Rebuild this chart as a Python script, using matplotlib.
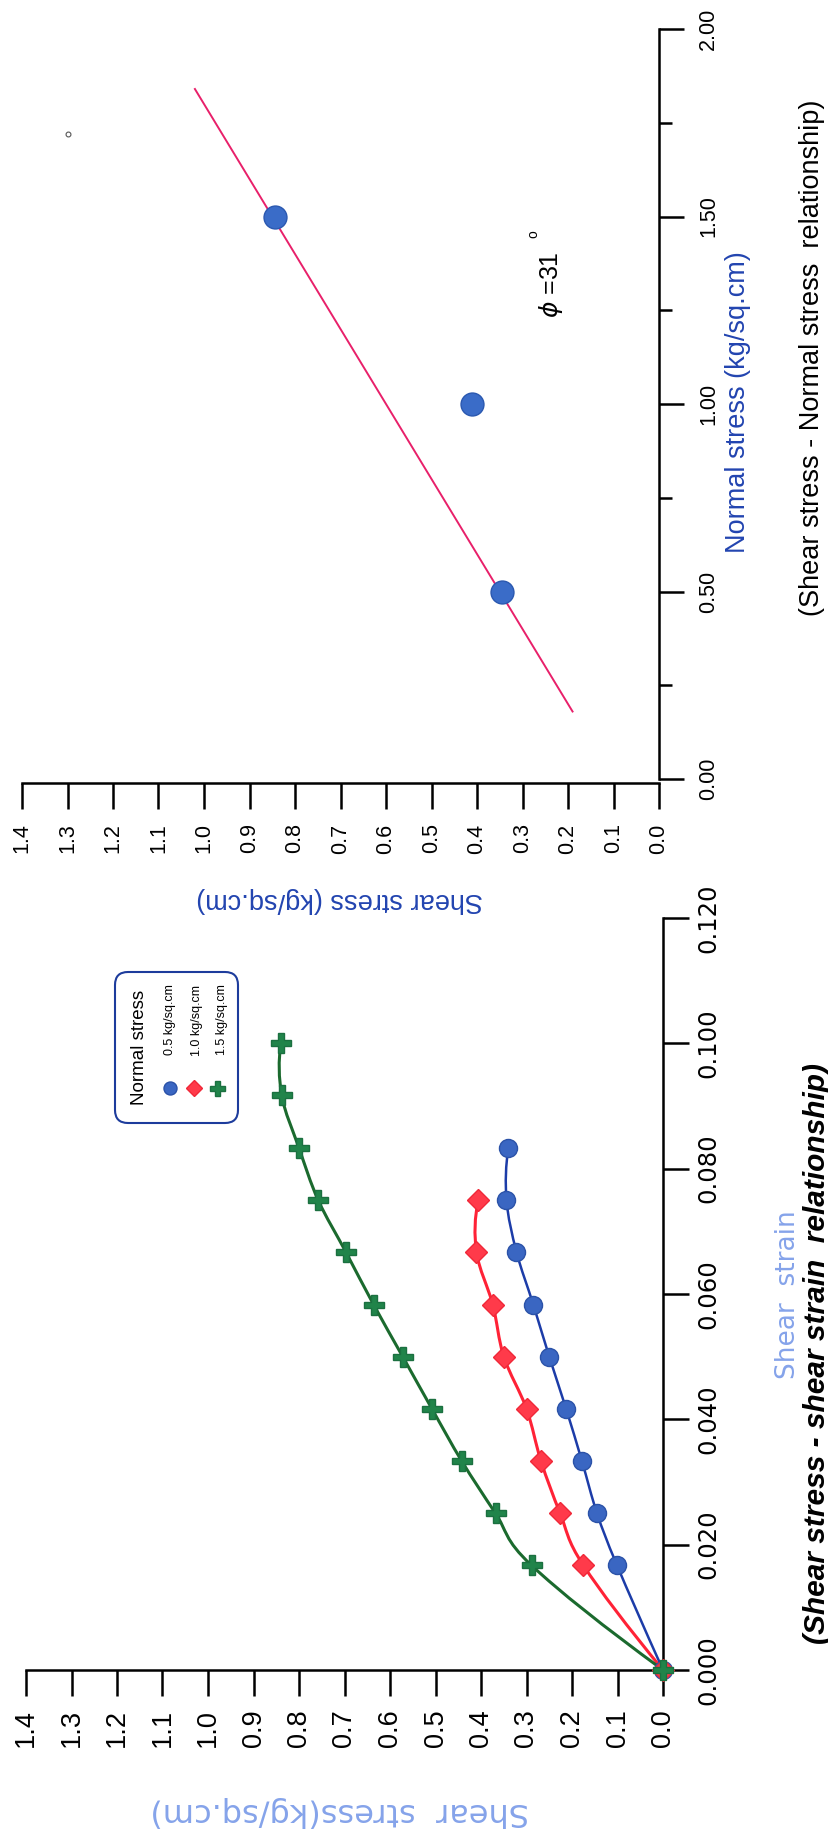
import numpy as np
import matplotlib
matplotlib.use("Agg")
import matplotlib.pyplot as plt
from matplotlib.path import Path
from matplotlib.patches import PathPatch, FancyBboxPatch
from matplotlib.lines import Line2D

W, H = 829, 1839

# shear stress - normal stress (upper chart)
normal_stress = [0.5, 1.0, 1.5]
max_shear = [0.345, 0.412, 0.843]
fit_normal = [0.18, 1.84]
fit_shear = [0.19, 1.02]
stray_normal = [1.72]
stray_shear = [1.30]
phi_label = r"$\phi$ =31"

# shear stress - shear strain (lower chart)
strain_05 = [0, 0.0167, 0.025, 0.0333, 0.0417, 0.05, 0.0583, 0.0667, 0.075, 0.0833]
shear_05 = [0, 0.101, 0.145, 0.178, 0.213, 0.250, 0.285, 0.322, 0.344, 0.340]
strain_10 = [0, 0.0167, 0.025, 0.0333, 0.0417, 0.05, 0.0583, 0.0667, 0.075]
shear_10 = [0, 0.175, 0.226, 0.268, 0.300, 0.350, 0.374, 0.410, 0.406]
strain_15 = [0, 0.0167, 0.025, 0.0333, 0.0417, 0.05, 0.0583, 0.0667, 0.075, 0.0833, 0.0917, 0.1]
shear_15 = [0, 0.289, 0.368, 0.442, 0.508, 0.572, 0.636, 0.697, 0.758, 0.800, 0.838, 0.840]
series_labels = ["0.5 kg/sq.cm", "1.0 kg/sq.cm", "1.5 kg/sq.cm"]

stress_ticks = [0.0, 0.1, 0.2, 0.3, 0.4, 0.5, 0.6, 0.7, 0.8, 0.9, 1.0, 1.1, 1.2, 1.3, 1.4]
normal_ticks = [0.0, 0.5, 1.0, 1.5, 2.0]
normal_minor = [0.25, 0.75, 1.25, 1.75]
strain_ticks = [0.0, 0.02, 0.04, 0.06, 0.08, 0.10, 0.12]

ARIAL = "Liberation Sans"
BLUE_TXT = "#2244b0"
LIGHT_TXT = "#85a3ea"


def smooth(xs, ys):
    # smooth curve through the points (cubic Hermite, Catmull-Rom tangents)
    p = np.column_stack([xs, ys]).astype(float)
    n = len(p)
    m = np.zeros_like(p)
    m[1:-1] = (p[2:] - p[:-2]) / 2
    m[0] = 2 * (p[1] - p[0]) - m[1]
    m[-1] = 2 * (p[-1] - p[-2]) - m[-2]
    verts = [p[0]]
    codes = [Path.MOVETO]
    for i in range(n - 1):
        verts += [p[i] + m[i] / 3, p[i + 1] - m[i + 1] / 3, p[i + 1]]
        codes += [Path.CURVE4] * 3
    return Path(verts, codes)


def px(x, y):
    # pixel position (from top left) -> inches for dpi_scale_trans
    return x / 100, (H - y) / 100


fig = plt.figure(figsize=(W / 100, H / 100), dpi=100)
T = fig.dpi_scale_trans

# ---------------- upper chart ----------------
ax1 = fig.add_axes([22 / W, 1 - 779 / H, (659 - 22) / W, (779 - 29) / H])
ax1.set_xlim(1.4, 0.0)
ax1.set_ylim(0.0, 2.0)
ax1.spines[["left", "top"]].set_visible(False)
ax1.spines["bottom"].set_position(("outward", 3))
for s in ["bottom", "right"]:
    ax1.spines[s].set_linewidth(1.8)
ax1.yaxis.tick_right()
ax1.set_xticks(stress_ticks, labels=[f"{v:.1f}" for v in stress_ticks],
               rotation=90, fontsize=15.5, fontfamily=ARIAL)
ax1.set_yticks(normal_ticks, labels=[f"{v:.2f}" for v in normal_ticks],
               rotation=90, va="center", fontsize=15.5, fontfamily=ARIAL)
ax1.set_yticks(normal_minor, minor=True)
ax1.tick_params(axis="x", length=19, width=1.8, pad=10)
ax1.tick_params(axis="y", which="major", length=18, width=1.8, pad=10)
ax1.tick_params(axis="y", which="minor", length=9, width=1.8)

ax1.plot(fit_shear, fit_normal, color="#e8206a", lw=1.4, zorder=2)
ax1.plot(max_shear, normal_stress, ls="none", marker="o", ms=16.5,
         mfc="#3a6cc8", mec="#2a58b0", zorder=3)
ax1.plot(stray_shear, stray_normal, ls="none", marker="o", ms=3.5,
         mfc="white", mec="#555555", mew=0.8)

fig.text(*px(551, 285), phi_label, transform=T, rotation=90, fontsize=18,
         fontfamily=ARIAL, ha="center", va="center")
fig.text(*px(533, 234), "o", transform=T, rotation=90, fontsize=10,
         fontfamily=ARIAL, ha="center", va="center")

fig.text(*px(738, 402), "Normal stress (kg/sq.cm)", transform=T, rotation=90,
         fontsize=19.5, fontfamily=ARIAL, color=BLUE_TXT, ha="center", va="center")
fig.text(*px(812, 358), "(Shear stress - Normal stress  relationship)", transform=T,
         rotation=90, fontsize=19.5, fontfamily=ARIAL, ha="center", va="center")
fig.text(*px(340, 900), "Shear stress (kg/sq.cm)", transform=T, rotation=180,
         fontsize=19.5, fontfamily=ARIAL, color=BLUE_TXT, ha="center", va="center")

# ---------------- lower chart ----------------
ax2 = fig.add_axes([26 / W, 1 - 1670 / H, (663 - 26) / W, (1670 - 918) / H])
ax2.set_xlim(1.4, 0.0)
ax2.set_ylim(0.0, 0.12)
ax2.spines[["left", "top"]].set_visible(False)
for s in ["bottom", "right"]:
    ax2.spines[s].set_linewidth(1.8)
ax2.yaxis.tick_right()
ax2.set_xticks(stress_ticks, labels=[f"{v:.1f}" for v in stress_ticks],
               rotation=90, fontsize=19.5, fontfamily=ARIAL)
ax2.set_yticks(strain_ticks, labels=[f"{v:.3f}" for v in strain_ticks],
               rotation=90, va="center", fontsize=17.5, fontfamily="DejaVu Sans")
ax2.tick_params(axis="x", length=19, width=1.8, pad=9)
ax2.tick_params(axis="y", length=19, width=1.8, pad=5)

series = [
    (shear_05, strain_05, "#1c3ca8", 1.8, dict(marker="o", ms=13, mfc="#3a66c2", mec="#2b52a8")),
    (shear_10, strain_10, "#ff2236", 2.2, dict(marker="D", ms=11, mfc="#ff3a4a", mec="#f02838")),
    (shear_15, strain_15, "#1b6a2e", 2.2, dict(marker="P", ms=15, mfc="#21844a", mec="#1b7040")),
]
for xs, ys, lc, lw, mk in series:
    ax2.add_patch(PathPatch(smooth(xs, ys), fill=False, ec=lc, lw=lw, zorder=2))
    ax2.plot(xs, ys, ls="none", clip_on=False, zorder=3, **mk)

fig.text(*px(788, 1295), "Shear  strain", transform=T, rotation=90, fontsize=19,
         fontfamily="DejaVu Sans", color=LIGHT_TXT, ha="center", va="center")
fig.text(*px(817, 1354), "(Shear stress - shear strain  relationship)", transform=T,
         rotation=90, fontsize=21.5, fontfamily=ARIAL, fontweight="bold",
         fontstyle="italic", ha="center", va="center")
fig.text(*px(340, 1812), "Shear  stress(kg/sq.cm)", transform=T, rotation=180,
         fontsize=23, fontfamily="DejaVu Sans", color=LIGHT_TXT, ha="center", va="center")

# legend, drawn rotated like the rest of the page
box = FancyBboxPatch(px(115, 1123), 1.23, 1.51, boxstyle="round,pad=0,rounding_size=0.13",
                     transform=T, fc="white", ec="#1d3c9c", lw=1.5)
fig.add_artist(box)
fig.text(*px(139, 1047), "Normal stress", transform=T, rotation=90, fontsize=13.5,
         fontfamily=ARIAL, ha="center", va="center")
for (xs, ys, lc, lw, mk), lab, lx, mx in zip(series, series_labels, [170, 197, 222], [170, 194, 217]):
    fig.text(*px(lx, 1020), lab, transform=T, rotation=90, fontsize=9,
             fontfamily=ARIAL, ha="center", va="center")
    m = dict(mk)
    m["ms"] = m["ms"] * 0.72
    mx_in, my_in = px(mx, 1088)
    fig.add_artist(Line2D([mx_in], [my_in], ls="none", transform=T, **m))

fig.savefig("out.png", dpi=100)
